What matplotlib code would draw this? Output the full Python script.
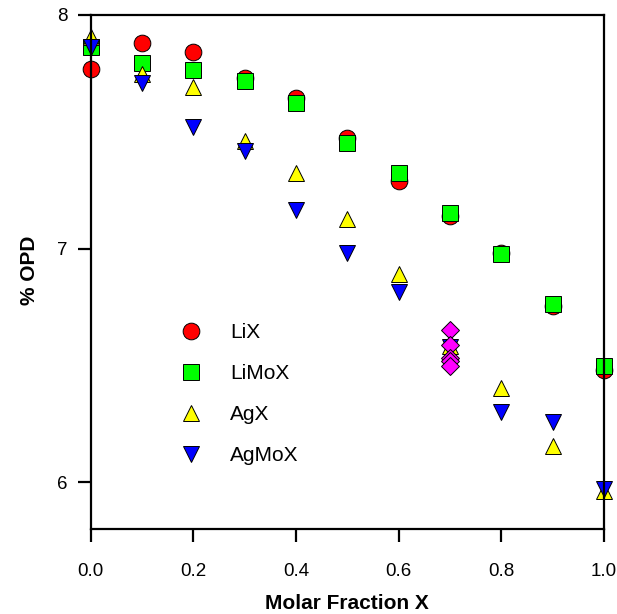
import matplotlib
matplotlib.use('Agg')
import matplotlib.pyplot as plt

plt.rcParams['font.family'] = ['Liberation Sans', 'DejaVu Sans']

# molar fraction values
x = [0.0, 0.1, 0.2, 0.3, 0.4, 0.5, 0.6, 0.7, 0.8, 0.9, 1.0]

lix = [7.77, 7.88, 7.84, 7.73, 7.645, 7.475, 7.29, 7.14, 6.98, 6.755, 6.48]
limox = [7.86, 7.795, 7.763, 7.716, 7.621, 7.452, 7.325, 7.154, 6.976, 6.765, 6.50]
agx = [7.906, 7.745, 7.692, 7.459, 7.324, 7.127, 6.893, 6.585, 6.406, 6.155, 5.965]
agmox = [7.863, 7.706, 7.518, 7.418, 7.167, 6.983, 6.814, 6.58, 6.30, 6.258, 5.972]

# extra points at x = 0.7 (no legend entry)
x_extra = [0.7, 0.7, 0.7, 0.7, 0.7]
y_extra = [6.65, 6.59, 6.532, 6.518, 6.50]

fig = plt.figure(figsize=(6.17, 6.14), dpi=100)
ax = fig.add_axes([0.147, 0.138, 0.832, 0.838])

common = dict(mec='black', mew=0.7, ls='none', clip_on=False)
ax.plot(x, lix, 'o', ms=12, mfc='#ff0000', label='LiX', **common)
ax.plot(x, limox, 's', ms=11, mfc='#00ff00', label='LiMoX', **common)
ax.plot(x, agx, '^', ms=12, mfc='#ffff00', label='AgX', **common)
ax.plot(x, agmox, 'v', ms=12, mfc='#0000ff', label='AgMoX', **common)
ax.plot(x_extra, y_extra, 'D', ms=9.5, mfc='#ff00ff', **common)

ax.set_xlim(0, 1.0)
ax.set_ylim(5.8, 8.0)
ax.set_xticks([0.0, 0.2, 0.4, 0.6, 0.8, 1.0])
ax.set_xticklabels(['0.0', '0.2', '0.4', '0.6', '0.8', '1.0'])
ax.set_yticks([6, 7, 8])

for s in ax.spines.values():
    s.set_linewidth(1.6)
ax.tick_params(direction='out', length=9.5, width=1.6, labelsize=13.5)
ax.tick_params(axis='x', pad=15)
ax.tick_params(axis='y', pad=7)

ax.set_xlabel('Molar Fraction X', fontsize=15, fontweight='bold')
ax.set_ylabel('% OPD', fontsize=15, fontweight='bold')
ax.xaxis.set_label_coords(0.5, -0.126)
ax.yaxis.set_label_coords(-0.1, 0.504)

leg = ax.legend(loc='upper left', bbox_to_anchor=(0.175, 0.40), frameon=False,
                numpoints=1, fontsize=15, handlelength=1.0, handletextpad=1.375,
                labelspacing=1.05, borderpad=0, borderaxespad=0)

fig.savefig('out.png', dpi=100)
